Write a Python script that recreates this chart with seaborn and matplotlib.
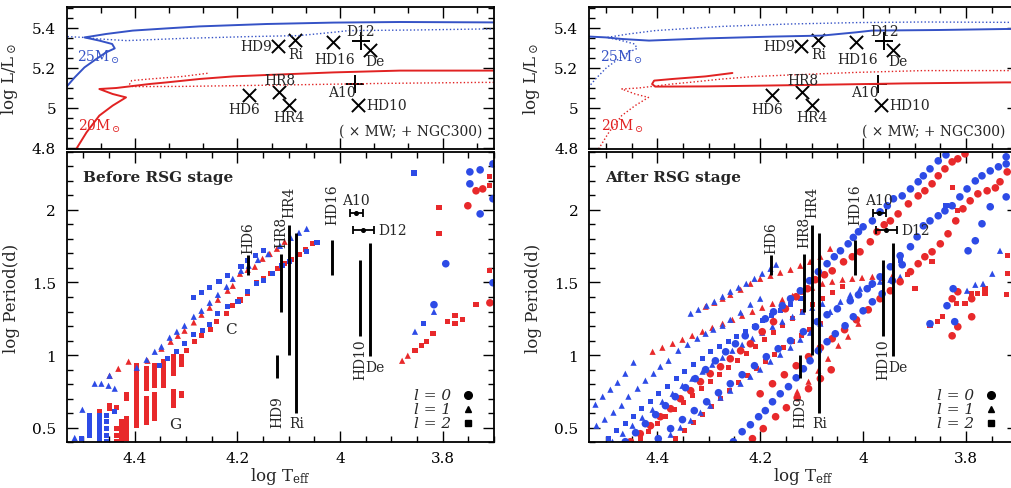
import matplotlib
matplotlib.use("Agg")
import matplotlib.pyplot as plt
from matplotlib.ticker import MultipleLocator, FuncFormatter
import seaborn as sns

# ---------------- HR-diagram data (top panels) ----------------
trk25_pre_x = [4.534, 4.517, 4.498, 4.475, 4.456, 4.439, 4.444, 4.469, 4.498, 4.485, 4.456, 4.404, 4.338, 4.274, 4.143, 4.013, 3.883, 3.701]
trk25_pre_y = [5.103, 5.153, 5.203, 5.245, 5.278, 5.298, 5.320, 5.337, 5.353, 5.358, 5.370, 5.387, 5.398, 5.408, 5.420, 5.427, 5.430, 5.428]
trk25_post_x = [4.531, 4.500, 4.468, 4.416, 4.306, 4.177, 4.080, 4.015, 3.983, 3.853, 3.724, 3.700]
trk25_post_y = [5.357, 5.353, 5.345, 5.337, 5.348, 5.357, 5.362, 5.378, 5.387, 5.390, 5.395, 5.395]
trk20_pre_x = [4.514, 4.494, 4.469, 4.443, 4.417, 4.443, 4.469, 4.436, 4.410, 4.371, 4.338, 4.274, 4.208, 4.143, 4.013, 3.883, 3.701]
trk20_pre_y = [4.795, 4.878, 4.962, 5.012, 5.053, 5.070, 5.095, 5.100, 5.108, 5.120, 5.128, 5.145, 5.158, 5.165, 5.178, 5.187, 5.187]
trk20_post_x = [3.700, 3.724, 3.918, 4.112, 4.306, 4.404, 4.410, 4.406, 4.371, 4.306, 4.254]
trk20_post_y = [5.128, 5.128, 5.123, 5.115, 5.108, 5.107, 5.120, 5.137, 5.145, 5.158, 5.175]

mw_names = ["HD9", "Ri", "HD16", "De", "HD6", "HR8", "HR4", "HD10"]
mw_teff = [4.121, 4.088, 4.013, 3.942, 4.177, 4.119, 4.099, 3.965]
mw_logl = [5.312, 5.342, 5.328, 5.292, 5.065, 5.078, 5.015, 5.015]
ngc_names = ["D12", "A10"]
ngc_teff = [3.959, 3.971]
ngc_logl = [5.333, 5.120]

# ---------------- observed periods (bottom panels) ----------------
obs_names = ["HD6", "HR8", "HR4", "Ri", "HD9", "HD16", "HD10", "De"]
obs_teff = [4.179, 4.115, 4.099, 4.085, 4.123, 4.015, 3.961, 3.942]
obs_pmin = [1.548, 1.296, 0.998, 0.604, 0.842, 1.553, 1.135, 0.994]
obs_pmax = [1.686, 1.697, 1.897, 1.840, 0.998, 1.794, 1.658, 1.773]
ngcp_names = ["A10", "D12"]
ngcp_teff = [3.969, 3.955]
ngcp_logp = [1.980, 1.862]
ngcp_terr_lo = [0.013, 0.021]
ngcp_terr_hi = [0.012, 0.020]

# ---------------- model periods: before RSG stage ----------------
bef_bsq_x = [4.285, 4.270, 4.254, 4.236, 4.219, 4.193, 4.180, 4.164, 4.149,
             4.352, 4.336, 4.318, 4.303, 4.285, 4.268, 4.254, 4.238, 4.219, 4.199, 4.180, 4.162, 4.149, 4.131, 4.113, 4.098, 4.065, 4.045,
             4.504, 4.488, 4.488, 4.488, 4.488, 4.488, 4.469, 4.469, 4.469, 4.469, 4.469, 4.469, 4.455, 4.455, 4.455, 4.455, 4.455, 4.439,
             3.856, 3.838]
bef_bsq_y = [1.395, 1.429, 1.464, 1.505, 1.546, 1.608, 1.649, 1.684, 1.718,
             0.927, 0.975, 1.023, 1.078, 1.140, 1.168, 1.209, 1.285, 1.333, 1.367, 1.436, 1.491, 1.512, 1.560, 1.615, 1.642, 1.711, 1.773,
             0.425, 0.583, 0.549, 0.514, 0.480, 0.445, 0.583, 0.549, 0.514, 0.480, 0.445, 0.411, 0.583, 0.542, 0.494, 0.445, 0.404, 0.611,
             2.254, 1.216]
bef_btri_x = [4.502, 4.478, 4.449, 4.396, 4.377, 4.361, 4.348, 4.332, 4.318, 4.303, 4.285, 4.270, 4.254, 4.238, 4.221, 4.209,
              4.193, 4.178, 4.160, 4.140, 4.117, 4.096, 4.080, 4.065, 4.465, 4.451, 4.439, 4.517, 3.817, 3.854]
bef_btri_y = [0.624, 0.803, 0.858, 0.913, 0.968, 1.023, 1.058, 1.120, 1.161, 1.202, 1.264, 1.305, 1.360, 1.415, 1.470, 1.525,
              1.580, 1.615, 1.655, 1.695, 1.752, 1.807, 1.842, 1.869, 0.803, 0.789, 0.769, 0.430, 1.298, 1.161]
bef_bcirc_x = [3.747, 3.727, 3.702, 3.747, 3.727, 3.702, 3.794, 3.702, 3.817]
bef_bcirc_y = [2.261, 2.275, 2.316, 2.179, 1.972, 2.076, 1.629, 1.498, 1.347]
bef_rsq_x = [4.299, 4.283, 4.270, 4.252, 4.240, 4.221, 4.209, 4.195, 4.180, 4.162, 4.149, 4.135, 4.121, 4.109, 4.094, 4.080, 4.067, 4.053,
             4.309, 4.309, 4.309, 4.309, 4.309, 4.309,
             4.324, 4.324, 4.324, 4.324, 4.324, 4.324, 4.324, 4.324, 4.324, 4.324, 4.324,
             4.344, 4.344, 4.344, 4.344, 4.344, 4.344, 4.344,
             4.361, 4.361, 4.361, 4.361, 4.361, 4.361, 4.361, 4.361, 4.361, 4.361, 4.361, 4.361, 4.361,
             4.377, 4.377, 4.377, 4.377, 4.377, 4.377, 4.377, 4.377, 4.377, 4.377, 4.377, 4.377, 4.377,
             4.396, 4.396, 4.396, 4.396, 4.396, 4.396, 4.396, 4.396, 4.396, 4.396, 4.396, 4.396, 4.396, 4.396, 4.396,
             4.416, 4.416, 4.416, 4.416, 4.416, 4.416, 4.416,
             4.426, 4.426, 4.426, 4.426, 4.426,
             4.435, 4.435, 4.435, 4.435, 4.449, 4.449, 4.469,
             3.807, 3.807, 3.708, 3.708, 3.708, 3.776, 3.776, 3.790, 3.762, 3.819, 3.831, 3.842, 3.854, 3.735]
bef_rsq_y = [1.030, 1.092, 1.133, 1.175, 1.230, 1.285, 1.340, 1.380, 1.422, 1.498, 1.525, 1.560, 1.594, 1.629, 1.656, 1.690, 1.725, 1.766,
             0.989, 0.968, 0.955, 0.934, 0.734, 0.721,
             0.989, 0.968, 0.941, 0.920, 0.900, 0.872, 0.748, 0.721, 0.700, 0.679, 0.652,
             0.955, 0.927, 0.900, 0.872, 0.844, 0.817, 0.789,
             0.927, 0.900, 0.872, 0.844, 0.817, 0.789, 0.728, 0.700, 0.673, 0.645, 0.618, 0.590, 0.562,
             0.906, 0.879, 0.851, 0.824, 0.796, 0.769, 0.700, 0.673, 0.645, 0.618, 0.590, 0.562, 0.535,
             0.927, 0.893, 0.865, 0.838, 0.803, 0.769, 0.734, 0.700, 0.679, 0.652, 0.624, 0.597, 0.569, 0.542, 0.514,
             0.728, 0.700, 0.562, 0.528, 0.494, 0.459, 0.425,
             0.542, 0.507, 0.473, 0.439, 0.404,
             0.638, 0.494, 0.445, 0.404, 0.652, 0.631, 0.611,
             2.014, 1.835, 2.227, 2.165, 1.580, 1.271, 1.216, 1.230, 1.243, 1.147, 1.092, 1.065, 1.030, 1.347]
bef_rtri_x = [4.449, 4.432, 4.412, 4.375, 4.348, 4.330, 4.316, 4.303, 4.285, 4.270, 4.254, 4.238, 4.219, 4.209,
              4.195, 4.180, 4.166, 4.151, 4.137, 4.123, 4.108, 3.879, 3.868]
bef_rtri_y = [0.858, 0.906, 0.955, 0.961, 1.044, 1.092, 1.133, 1.168, 1.225, 1.278, 1.326, 1.381, 1.443, 1.477,
              1.560, 1.587, 1.608, 1.663, 1.697, 1.732, 1.780, 0.961, 0.996]
bef_rcirc_x = [3.751, 3.735, 3.722, 3.708]
bef_rcirc_y = [2.028, 2.131, 2.144, 1.360]

# ---------------- model periods: after RSG stage ----------------
aft_bcirc_x = [4.462, 4.442, 4.423, 4.403, 4.384, 4.365, 4.345, 4.326, 4.306, 4.287, 4.267, 4.248, 4.229, 4.209, 4.190, 4.174, 4.157, 4.141, 4.122,
               4.104, 4.087, 4.070, 4.056, 4.044, 4.029, 4.009, 4.000, 3.982, 3.967, 3.953, 3.941, 3.924, 3.908, 3.893, 3.883, 3.870, 3.854, 3.839,
               4.398, 4.374, 4.351, 4.328, 4.304, 4.281, 4.258, 4.235, 4.211, 4.188, 4.165, 4.141, 4.116, 4.089, 4.070, 4.050, 4.025, 4.009, 3.992,
               3.982, 3.967, 3.947, 3.928, 3.908, 3.895, 3.883, 3.870, 3.854, 3.841, 3.827, 3.812, 3.798, 3.782, 3.769, 3.753, 3.737, 3.722,
               4.252, 4.235, 4.219, 4.203, 4.190, 4.176, 4.161, 4.145, 4.130, 4.116, 4.103, 4.087, 4.070, 4.054, 4.035, 4.019, 4.000, 3.982, 3.963, 3.943, 3.924,
               3.825, 3.837, 3.822, 3.870, 3.796, 3.782, 3.769, 3.753, 3.722, 3.722, 4.019]
aft_bcirc_y = [0.404, 0.466, 0.528, 0.590, 0.652, 0.714, 0.776, 0.838, 0.900, 0.961, 1.023, 1.078, 1.133, 1.195, 1.250, 1.298, 1.340, 1.388, 1.443,
               1.512, 1.574, 1.629, 1.677, 1.718, 1.766, 1.849, 1.883, 1.924, 1.986, 2.028, 2.076, 2.096, 2.144, 2.193, 2.234, 2.282, 2.337, 2.378,
               0.425, 0.494, 0.556, 0.618, 0.679, 0.741, 0.803, 0.865, 0.927, 0.989, 1.044, 1.099, 1.161, 1.230, 1.278, 1.319, 1.374, 1.415, 1.457,
               1.491, 1.539, 1.608, 1.684, 1.746, 1.814, 1.890, 1.924, 1.959, 1.993, 2.028, 2.089, 2.144, 2.199, 2.234, 2.268, 2.296, 2.316,
               0.404, 0.473, 0.521, 0.576, 0.618, 0.679, 0.734, 0.783, 0.844, 0.906, 0.961, 1.030, 1.092, 1.147, 1.202, 1.264, 1.305, 1.367, 1.422, 1.512, 1.622,
               1.457, 1.340, 1.230, 1.216, 1.718, 1.787, 1.904, 2.021, 2.089, 2.365, 1.810]
aft_rcirc_x = [4.452, 4.433, 4.413, 4.394, 4.374, 4.355, 4.335, 4.316, 4.297, 4.277, 4.258, 4.238, 4.219, 4.196, 4.174, 4.151, 4.130, 4.108, 4.093,
               4.075, 4.060, 4.038, 4.021, 4.006, 3.986, 3.973, 3.959, 3.947, 3.932, 3.912, 3.893, 3.880, 3.866, 3.854, 3.841, 3.827, 3.816, 3.802,
               4.200, 4.176, 4.153, 4.130, 4.106, 4.083, 4.060, 4.036, 4.013, 3.990, 3.967, 3.947, 3.928, 3.908, 3.893, 3.880, 3.866, 3.850,
               3.835, 3.820, 3.806, 3.792, 3.777, 3.759, 3.743, 3.734, 3.720,
               4.215, 4.194, 4.170, 4.149, 4.128, 4.106, 4.083, 4.062,
               3.827, 3.816, 3.816, 3.827, 3.789, 3.789]
aft_rcirc_y = [0.404, 0.459, 0.514, 0.576, 0.631, 0.700, 0.755, 0.817, 0.872, 0.920, 0.975, 1.030, 1.078, 1.161, 1.230, 1.319, 1.402, 1.457, 1.519,
               1.553, 1.580, 1.642, 1.677, 1.711, 1.780, 1.849, 1.897, 1.924, 1.972, 2.041, 2.096, 2.131, 2.179, 2.234, 2.282, 2.330, 2.351, 2.385,
               0.734, 0.803, 0.865, 0.927, 0.989, 1.051, 1.113, 1.175, 1.243, 1.312, 1.388, 1.443, 1.505, 1.574, 1.629, 1.677, 1.711, 1.766,
               1.835, 1.924, 2.007, 2.062, 2.110, 2.131, 2.151, 2.193, 2.261,
               0.425, 0.494, 0.576, 0.638, 0.707, 0.769, 0.838, 0.899,
               1.388, 1.436, 1.195, 1.133, 1.264, 1.388]
aft_btri_x = [4.520, 4.506, 4.491, 4.477, 4.462, 4.446,
              4.335, 4.320, 4.304, 4.289, 4.273, 4.258, 4.242, 4.227, 4.211, 4.196, 4.180, 4.169,
              4.518, 4.502, 4.485, 4.469, 4.456, 4.438, 4.423, 4.407, 4.394, 4.378, 4.359, 4.341, 4.322, 4.306, 4.291, 4.273, 4.258, 4.238, 4.219, 4.200,
              4.394, 4.374, 4.355, 4.335, 4.316, 4.297, 4.277, 4.258, 4.238, 4.219, 4.200, 4.180, 4.161, 4.141, 4.122, 4.103, 4.083, 4.064, 4.044,
              4.025, 4.006, 3.986, 3.967, 3.947, 3.928,
              4.487, 4.467, 4.448, 4.429, 4.409, 4.390, 4.370, 4.351, 4.332, 4.312, 4.293, 4.273, 4.254, 4.235, 4.215, 4.196, 4.176, 4.157, 4.137,
              4.118, 4.099, 4.079,
              3.798, 3.782, 3.767, 3.749, 3.734]
aft_btri_y = [0.659, 0.714, 0.762, 0.810, 0.872, 0.948,
              1.285, 1.312, 1.340, 1.367, 1.402, 1.436, 1.464, 1.491, 1.525, 1.560, 1.594, 1.622,
              0.514, 0.556, 0.604, 0.652, 0.714, 0.769, 0.824, 0.872, 0.920, 0.961, 1.030, 1.071, 1.113, 1.147, 1.175, 1.202, 1.243, 1.292, 1.347, 1.388,
              0.404, 0.452, 0.501, 0.549, 0.604, 0.652, 0.707, 0.755, 0.803, 0.851, 0.900, 0.955, 1.003, 1.051, 1.106, 1.154, 1.216, 1.298, 1.367,
              1.415, 1.457, 1.484, 1.505, 1.519, 1.539,
              0.404, 0.459, 0.514, 0.569, 0.624, 0.679, 0.734, 0.789, 0.838, 0.886, 0.934, 0.982, 1.030, 1.071, 1.113, 1.154, 1.195, 1.230, 1.264,
              1.298, 1.326, 1.353,
              1.443, 1.484, 1.491, 1.560, 1.718]
aft_rtri_x = [4.306, 4.289, 4.273, 4.258, 4.238, 4.219, 4.200, 4.180, 4.161, 4.141, 4.122, 4.103, 4.083, 4.064,
              4.409, 4.390, 4.370, 4.351, 4.332, 4.312, 4.293, 4.273, 4.254, 4.235, 4.215, 4.196, 4.176, 4.157, 4.137, 4.118, 4.099, 4.079,
              4.060, 4.040, 4.021, 4.002, 3.982, 3.963, 3.944,
              4.128, 4.106, 4.087, 4.068, 4.048, 4.029, 4.009]
aft_rtri_y = [1.333, 1.360, 1.388, 1.415, 1.450, 1.491, 1.525, 1.546, 1.567, 1.587, 1.615, 1.642, 1.677, 1.732,
              1.023, 1.051, 1.078, 1.106, 1.133, 1.161, 1.188, 1.216, 1.243, 1.271, 1.298, 1.326, 1.353, 1.381, 1.408, 1.436, 1.464, 1.491,
              1.505, 1.519, 1.525, 1.532, 1.539, 1.532, 1.539,
              0.748, 0.817, 0.893, 0.975, 1.065, 1.127, 1.216]
aft_bsq_x = [4.495, 4.479, 4.462, 4.446, 4.431, 4.413, 4.398, 4.380, 4.363, 4.347, 4.330, 4.312, 4.297, 4.279, 4.262, 4.246, 4.229, 4.211,
             4.196, 4.178, 4.161, 4.141, 4.122, 3.839, 3.928]
aft_bsq_y = [0.425, 0.480, 0.528, 0.576, 0.631, 0.679, 0.734, 0.783, 0.838, 0.886, 0.934, 0.975, 1.023, 1.058, 1.092, 1.127, 1.161, 1.195,
             1.237, 1.271, 1.305, 1.347, 1.388, 2.028, 1.649]
aft_rsq_x = [4.433, 4.417, 4.400, 4.384, 4.367, 4.349, 4.332, 4.314, 4.297, 4.279, 4.262, 4.244, 4.227, 4.209, 4.192, 4.174, 4.157, 4.137,
             4.118, 4.099, 4.079, 4.060, 4.040,
             4.365, 4.347, 4.330, 4.312, 4.295, 4.277, 4.260, 4.242, 4.225, 4.207, 4.190, 4.172, 4.155, 4.137, 4.120, 4.103, 4.083,
             3.870, 3.856, 3.845, 3.818, 3.802, 3.789, 3.777, 3.763, 3.763, 3.720, 3.720, 3.722, 3.827, 3.827, 3.816, 3.914, 3.899, 3.866, 3.947]
aft_rsq_y = [0.425, 0.473, 0.528, 0.576, 0.624, 0.673, 0.721, 0.769, 0.817, 0.865, 0.913, 0.961, 1.010, 1.058, 1.106, 1.154, 1.202, 1.250,
             1.298, 1.347, 1.388, 1.429, 1.470,
             0.425, 0.480, 0.535, 0.590, 0.645, 0.700, 0.755, 0.810, 0.858, 0.906, 0.955, 1.003, 1.051, 1.092, 1.133, 1.175, 1.216,
             1.202, 1.230, 1.264, 1.353, 1.353, 1.422, 1.422, 1.422, 1.457, 1.684, 1.560, 1.415, 2.151, 2.021, 1.993, 1.553, 1.457, 1.642, 1.445]

legend_labels = ["l = 0", "l = 1", "l = 2"]

# ---------------- style ----------------
sns.set_theme(style="ticks")
plt.rcParams["font.family"] = ["DejaVu Serif", "DejaVu Sans"]
plt.rcParams["mathtext.fontset"] = "dejavuserif"

BLUE = "#2d4be6"
RED = "#e8292b"
TBLUE = "#3552c6"
TRED = "#e12222"
W, H = 1011.0, 489.0


def rect(x0, y0, x1, y1):
    return [x0 / W, 1 - y1 / H, (x1 - x0) / W, (y1 - y0) / H]


fmt = FuncFormatter(lambda v, p: f"{v:g}")


def style(ax, minor_x):
    ax.set_xlim(4.532, 3.700)
    ax.xaxis.set_major_locator(MultipleLocator(0.2))
    ax.xaxis.set_minor_locator(MultipleLocator(minor_x))
    ax.tick_params(which="both", direction="in", top=True, right=True, width=1.0, colors="black", labelsize=11)
    ax.tick_params(which="major", length=8)
    ax.tick_params(which="minor", length=4)
    ax.tick_params(axis="y", pad=8)
    ax.tick_params(axis="x", pad=6)
    ax.xaxis.set_major_formatter(fmt)
    ax.yaxis.set_major_formatter(fmt)
    for s in ax.spines.values():
        s.set_linewidth(1.3)
        s.set_color("black")
    ax.grid(False)


fig = plt.figure(figsize=(10.11, 4.89), dpi=100)
fig.patch.set_facecolor("white")

panels = [
    (67, 494, 0.2 / 3, "pre", "Before RSG stage", "bef"),
    (589.3, 1017.5, 0.05, "post", "After RSG stage", "aft"),
]

for x0, x1, mtop, solid, title, key in panels:
    axt = fig.add_axes(rect(x0, 7.5, x1, 150))
    axb = fig.add_axes(rect(x0, 152.7, x1, 443.3))

    # ---------- top: HR diagram ----------
    ls_pre = "-" if solid == "pre" else (0, (1, 1.6))
    ls_post = "-" if solid == "post" else (0, (1, 1.6))
    lw_pre = 1.4 if solid == "pre" else 1.0
    lw_post = 1.4 if solid == "post" else 1.0
    sns.lineplot(x=trk25_pre_x, y=trk25_pre_y, sort=False, estimator=None, color=TBLUE, linestyle=ls_pre, linewidth=lw_pre, ax=axt)
    sns.lineplot(x=trk25_post_x, y=trk25_post_y, sort=False, estimator=None, color=TBLUE, linestyle=ls_post, linewidth=lw_post, ax=axt)
    sns.lineplot(x=trk20_pre_x, y=trk20_pre_y, sort=False, estimator=None, color=TRED, linestyle=ls_pre, linewidth=lw_pre, ax=axt)
    sns.lineplot(x=trk20_post_x, y=trk20_post_y, sort=False, estimator=None, color=TRED, linestyle=ls_post, linewidth=lw_post, ax=axt)

    sns.scatterplot(x=mw_teff, y=mw_logl, marker="x", s=90, color="black", linewidth=1.4, ax=axt)
    sns.scatterplot(x=ngc_teff, y=ngc_logl, marker="+", s=170, color="black", linewidth=1.4, ax=axt)

    mw_off = {"HD9": (-15.6, 0), "Ri": (0.7, -10.3), "HD16": (1.2, -12), "De": (3.6, -7.9),
              "HD6": (-3.6, -10), "HR8": (0.5, 8.9), "HR4": (0, -8.9), "HD10": (20.4, 0)}
    for n, xv, yv in zip(mw_names, mw_teff, mw_logl):
        axt.annotate(n, (xv, yv), xytext=mw_off[n], textcoords="offset points", ha="center", va="center", fontsize=10)
    ngc_off = {"D12": (0, 7.6), "A10": (-9.6, -5.5)}
    for n, xv, yv in zip(ngc_names, ngc_teff, ngc_logl):
        axt.annotate(n, (xv, yv), xytext=ngc_off[n], textcoords="offset points", ha="center", va="center", fontsize=10)

    axt.text(4.470, 5.258, r"25M$_\odot$", color=TBLUE, fontsize=10, ha="center", va="center")
    axt.text(4.468, 4.912, r"20M$_\odot$", color=TRED, fontsize=10, ha="center", va="center")
    axt.text(0.972, 0.128, "( \u00d7 MW; + NGC300)", transform=axt.transAxes, ha="right", va="center", fontsize=10)

    style(axt, mtop)
    axt.set_ylim(4.795, 5.5075)
    axt.yaxis.set_major_locator(MultipleLocator(0.2))
    axt.yaxis.set_minor_locator(MultipleLocator(0.05))
    axt.tick_params(labelbottom=False)
    axt.set_xlabel("")
    axt.set_ylabel(r"log L/L$_\odot$", fontsize=12)
    axt.yaxis.set_label_coords(-0.11, 0.5)

    # ---------- bottom: periods ----------
    g = globals()
    series = [
        (key + "_rsq", RED, "s", 14), (key + "_bsq", BLUE, "s", 14),
        (key + "_rtri", RED, "^", 20), (key + "_btri", BLUE, "^", 20),
        (key + "_rcirc", RED, "o", 30), (key + "_bcirc", BLUE, "o", 30),
    ]
    for name, col, mk, sz in series:
        sns.scatterplot(x=g[name + "_x"], y=g[name + "_y"], color=col, marker=mk, s=sz, linewidth=0, edgecolor="none", ax=axb)

    axb.vlines(obs_teff, obs_pmin, obs_pmax, color="black", linewidth=2.1)
    axb.errorbar(ngcp_teff, ngcp_logp, xerr=[ngcp_terr_lo, ngcp_terr_hi], fmt="o", ms=2.6, color="black",
                 ecolor="black", elinewidth=1.3, capsize=3, capthick=1.3)

    above = {"HD6": 1.5, "HR8": 4.8, "HR4": 5.5, "HD16": 11.5}
    below_rot = {"HD9": -12.5, "HD10": -2.0}
    for n, xv, lo, hi in zip(obs_names, obs_teff, obs_pmin, obs_pmax):
        if n in above:
            axb.annotate(n, (xv, hi), xytext=(0, above[n]), textcoords="offset points", rotation=90,
                         ha="center", va="bottom", fontsize=10)
        elif n in below_rot:
            axb.annotate(n, (xv, lo), xytext=(0, below_rot[n]), textcoords="offset points", rotation=90,
                         ha="center", va="top", fontsize=10)
        elif n == "Ri":
            axb.annotate(n, (xv, lo), xytext=(0, -7.7), textcoords="offset points", ha="center", va="center", fontsize=10)
        else:
            axb.annotate(n, (xv, lo), xytext=(3.7, -7.7), textcoords="offset points", ha="center", va="center", fontsize=10)
    axb.annotate("A10", (ngcp_teff[0], ngcp_logp[0]), xytext=(0, 9.4), textcoords="offset points",
                 ha="center", va="center", fontsize=10)
    axb.annotate("D12", (ngcp_teff[1] - ngcp_terr_hi[1], ngcp_logp[1]), xytext=(3.3, 0), textcoords="offset points",
                 ha="left", va="center", fontsize=10)

    axb.text(0.037, 0.912, title, transform=axb.transAxes, ha="left", va="center", fontsize=11, fontweight="bold")
    if key == "bef":
        axb.text(4.213, 1.177, "C", ha="center", va="center", fontsize=11)
        axb.text(4.322, 0.528, "G", ha="center", va="center", fontsize=11)

    for lab, mk, yy, ms in zip(legend_labels, ["o", "^", "s"], [0.163, 0.115, 0.066], [5.5, 4.5, 4.0]):
        axb.text(0.812, yy, lab, transform=axb.transAxes, ha="left", va="center", fontsize=11, fontstyle="italic")
        axb.plot([0.939], [yy], marker=mk, color="black", ms=ms, ls="none", transform=axb.transAxes)

    style(axb, 0.05)
    axb.set_ylim(0.40, 2.40)
    axb.yaxis.set_major_locator(MultipleLocator(0.5))
    axb.yaxis.set_minor_locator(MultipleLocator(0.1))
    axb.set_xlabel(r"log T$_{\rm eff}$", fontsize=12)
    axb.xaxis.set_label_coords(0.5, -0.078)
    axb.set_ylabel("log Period(d)", fontsize=12)
    axb.yaxis.set_label_coords(-0.11, 0.5)
    if axb.get_legend() is not None:
        axb.get_legend().remove()

fig.savefig("out.png", dpi=100, facecolor="white")
